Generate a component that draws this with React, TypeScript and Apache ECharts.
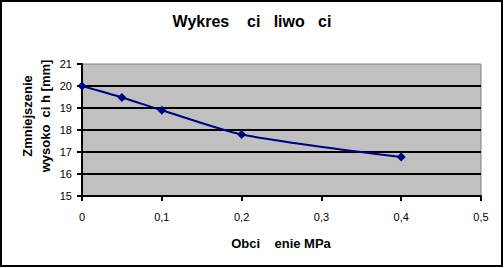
import React, { useEffect, useRef } from "react";
import * as echarts from "echarts";

const loads = [0, 0.05, 0.1, 0.2, 0.4];
const heights = [20.0, 19.48, 18.9, 17.8, 16.77];
const titleText = "Wykres\u00A0\u00A0\u00A0\u00A0ci\u00A0\u00A0\u00A0liwo\u00A0\u00A0\u00A0ci";
const xName = "Obci\u00A0\u00A0\u00A0\u00A0enie MPa";
const yName1 = "Zmniejszenie";
const yName2 = "wysoko\u00A0\u00A0ci h [mm]";

const FONT = "'Liberation Sans', Arial, sans-serif";

export default function App() {
  const ref = useRef<HTMLDivElement>(null);
  useEffect(() => {
    document.body.style.margin = "0";
    const chart = echarts.init(ref.current!, undefined, { renderer: "svg" });
    chart.setOption({
      animation: false,
      backgroundColor: "#ffffff",
      grid: {
        left: 82,
        top: 64,
        right: 23,
        bottom: 72,
        show: true,
        backgroundColor: "#c0c0c0",
        borderColor: "#808080",
        borderWidth: 1,
      },
      xAxis: {
        type: "value",
        min: 0,
        max: 0.5,
        interval: 0.1,
        axisLine: { show: true, onZero: false, lineStyle: { color: "#000", width: 2 } },
        axisTick: { show: true, length: 5, lineStyle: { color: "#000", width: 2 } },
        splitLine: { show: false },
        axisLabel: {
          color: "#000",
          fontSize: 11,
          fontFamily: FONT,
          margin: 15,
          formatter: (v: number) => (Math.round(v * 10) / 10).toString().replace(".", ","),
        },
      },
      yAxis: {
        type: "value",
        min: 15,
        max: 21,
        interval: 1,
        axisLine: { show: true, lineStyle: { color: "#000", width: 2 } },
        axisTick: { show: true, length: 5, lineStyle: { color: "#000", width: 2 } },
        splitLine: { show: true, showMaxLine: false, lineStyle: { color: "#000", width: 2 } },
        axisLabel: { color: "#000", fontSize: 11, fontFamily: FONT, margin: 10 },
      },
      series: [
        {
          type: "line",
          data: loads.map((x, i) => [x, heights[i]]),
          smooth: 0.25,
          symbol: "diamond",
          symbolSize: 9,
          itemStyle: { color: "#000080" },
          lineStyle: { color: "#000080", width: 2 },
        },
      ],
      graphic: [
        {
          type: "rect",
          shape: { x: 1, y: 1, width: 501, height: 265 },
          style: { fill: "none", stroke: "#000", lineWidth: 2 },
          silent: true,
        },
        {
          type: "text",
          x: 252,
          y: 21,
          style: {
            text: titleText,
            fontSize: 16,
            fontWeight: "bold",
            fontFamily: FONT,
            fill: "#000",
            align: "center",
            verticalAlign: "middle",
          },
        },
        {
          type: "text",
          x: 281,
          y: 243,
          style: {
            text: xName,
            fontSize: 13,
            fontWeight: "bold",
            fontFamily: FONT,
            fill: "#000",
            align: "center",
            verticalAlign: "middle",
          },
        },
        {
          type: "text",
          x: 27,
          y: 116,
          rotation: Math.PI / 2,
          style: {
            text: yName1,
            fontSize: 13,
            fontWeight: "bold",
            fontFamily: FONT,
            fill: "#000",
            align: "center",
            verticalAlign: "middle",
          },
        },
        {
          type: "text",
          x: 45,
          y: 116,
          rotation: Math.PI / 2,
          style: {
            text: yName2,
            fontSize: 13,
            fontWeight: "bold",
            fontFamily: FONT,
            fill: "#000",
            align: "center",
            verticalAlign: "middle",
          },
        },
      ],
    });
    return () => chart.dispose();
  }, []);
  return <div ref={ref} style={{ width: 504, height: 268 }} />;
}
